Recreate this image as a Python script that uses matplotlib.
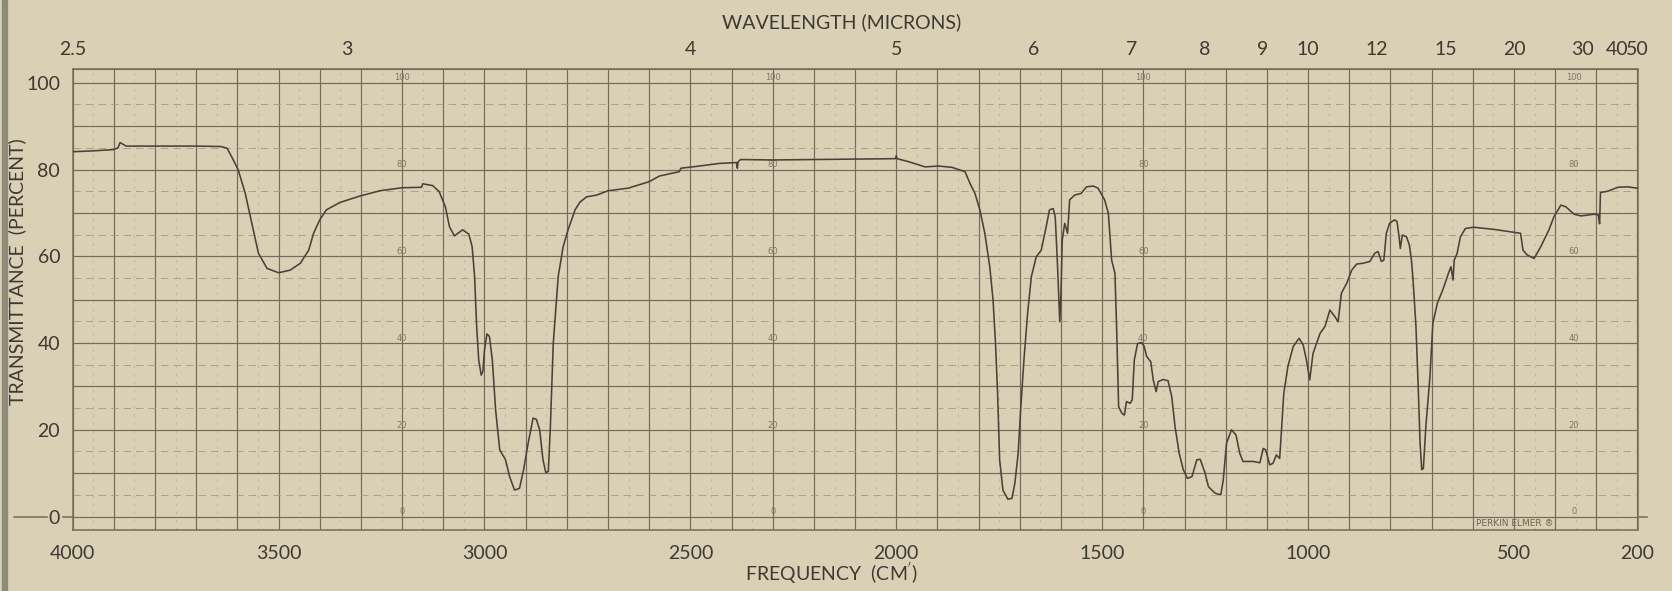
import numpy as np
import matplotlib
matplotlib.use("Agg")
import matplotlib.pyplot as plt
from matplotlib.patches import Rectangle
from matplotlib.ticker import MultipleLocator, FuncFormatter, NullLocator
import matplotlib.transforms as mtransforms

plt.rcParams["font.family"] = ["Lato", "DejaVu Sans"]

# spectrum: wavenumber (cm-1) and transmittance (%)
wavenumber = [
    4000, 3950, 3900, 3890, 3885, 3870, 3800, 3700, 3640, 3625, 3610, 3598,
    3581, 3565, 3549, 3528, 3500, 3472, 3447, 3427, 3415, 3400, 3384, 3351,
    3302, 3254, 3200, 3153, 3150, 3126, 3110, 3095, 3085, 3073, 3053, 3038,
    3030, 3024, 3019, 3014, 3008, 3004, 3000, 2994, 2988, 2981, 2973, 2963,
    2949, 2939, 2927, 2915, 2905, 2894, 2882, 2874, 2866, 2858, 2851, 2845,
    2840, 2833, 2821, 2809, 2797, 2780, 2768, 2752, 2728, 2700, 2651, 2600,
    2575, 2527, 2523, 2478, 2430, 2388, 2386, 2384, 2378, 2300, 2200, 2115,
    2002, 2000, 1998, 1970, 1930, 1898, 1865, 1833, 1821, 1809, 1797, 1785,
    1773, 1765, 1759, 1754, 1749, 1741, 1729, 1719, 1712, 1704, 1698, 1690,
    1681, 1672, 1660, 1648, 1636, 1628, 1619, 1614, 1609, 1605, 1603, 1600,
    1597, 1591, 1584, 1579, 1567, 1551, 1538, 1522, 1510, 1494, 1485, 1477,
    1469, 1465, 1460, 1452, 1446, 1441, 1432, 1427, 1422, 1414, 1404, 1398,
    1392, 1382, 1376, 1369, 1364, 1352, 1340, 1331, 1323, 1313, 1303, 1293,
    1282, 1270, 1262, 1250, 1242, 1226, 1212, 1206, 1198, 1186, 1175, 1166,
    1158, 1133, 1117, 1109, 1103, 1093, 1085, 1077, 1069, 1065, 1059, 1049,
    1036, 1022, 1012, 1004, 996, 988, 971, 959, 947, 935, 927, 919, 906, 894,
    882, 866, 850, 838, 830, 822, 816, 810, 802, 790, 784, 779, 776, 771, 761,
    754, 749, 745, 738, 732, 728, 724, 720, 714, 704, 697, 686, 673, 659, 653,
    648, 645, 638, 630, 618, 598, 549, 484, 478, 468, 451, 435, 415, 403, 386,
    374, 354, 337, 305, 295, 292, 290, 272, 248, 224, 200,
]
transmittance = [
    84.1, 84.3, 84.6, 85.0, 86.2, 85.4, 85.4, 85.4, 85.3, 84.9, 82.2, 79.9,
    74.5, 67.6, 60.7, 57.2, 56.2, 56.8, 58.4, 61.4, 65.3, 68.4, 70.7, 72.4,
    73.9, 75.1, 75.8, 75.9, 76.7, 76.3, 74.9, 71.4, 66.8, 64.7, 66.1, 65.1,
    62.2, 55.3, 43.8, 36.1, 32.6, 33.4, 38.4, 42.1, 41.5, 36.1, 24.6, 15.4,
    13.1, 9.2, 6.1, 6.5, 10.8, 16.9, 22.7, 22.4, 20.0, 13.1, 10.1, 10.4,
    20.7, 39.9, 55.3, 62.2, 66.1, 70.7, 72.5, 73.7, 74.1, 75.1, 75.7, 77.2,
    78.5, 79.5, 80.3, 80.8, 81.4, 81.6, 80.3, 81.8, 82.3, 82.2, 82.3, 82.4,
    82.5, 83.2, 82.5, 81.8, 80.6, 80.8, 80.5, 79.5, 76.8, 74.5, 70.7, 65.3,
    57.6, 49.9, 39.9, 28.4, 13.1, 6.1, 4.0, 4.2, 7.7, 14.6, 24.6, 36.1,
    46.9, 55.3, 59.9, 61.4, 66.8, 70.7, 71.0, 69.1, 59.1, 49.9, 44.9, 51.5,
    63.7, 67.6, 65.3, 73.0, 74.1, 74.5, 76.0, 76.2, 75.7, 73.0, 69.9, 59.1,
    56.1, 43.8, 25.3, 23.8, 23.4, 26.5, 26.1, 26.9, 36.1, 39.9, 40.1, 39.2,
    36.9, 35.7, 31.5, 28.8, 31.1, 31.6, 31.3, 27.6, 20.7, 14.6, 10.8, 8.8,
    9.2, 13.1, 13.2, 10.0, 6.9, 5.4, 5.0, 8.4, 16.9, 20.0, 18.8, 14.6,
    12.7, 12.7, 12.4, 15.7, 15.4, 11.9, 12.3, 14.2, 13.4, 19.2, 28.4, 34.6,
    39.2, 41.1, 39.6, 36.1, 31.5, 37.6, 42.2, 43.8, 47.6, 46.1, 44.9, 51.5, 53.8, 56.8,
    58.2, 58.4, 58.8, 60.7, 61.1, 58.8, 59.1, 65.3, 67.6, 68.4, 68.0, 64.5, 61.8, 64.9, 64.5,
    62.6, 59.1, 54.5, 43.8, 28.4, 16.9, 10.8, 11.1, 20.7, 32.3, 44.5, 49.2, 52.2, 56.1, 57.6,
    54.5, 59.1, 60.7, 64.5, 66.4, 66.7, 66.2, 65.3, 61.4, 60.3, 59.5, 62.2, 66.1, 69.1, 71.8,
    71.4, 69.7, 69.3, 69.7, 69.5, 67.5, 74.7, 75.0, 75.9, 76.0, 75.7,
]

freq_labels = [4000, 3500, 3000, 2500, 2000, 1500, 1000, 500, 200]
wavelength_ticks = [2.5, 3, 4, 5, 6, 7, 8, 9, 10, 12, 15, 20, 30, 40, 50]
wavelength_labels = ["2.5", "3", "4", "5", "6", "7", "8", "9", "10", "12",
                     "15", "20", "30", "40", "50"]
percent_labels = [0, 20, 40, 60, 80, 100]
inner_scale_at = [3200, 2300, 1400, 355]

PAPER = "#d9d0b5"
GRID = "#726c5c"
GRID_MINOR = "#a29b84"
INK = "#3d3a33"
TRACE = "#48433a"

W, H = 1672, 591
fig = plt.figure(figsize=(W / 100, H / 100), dpi=100, facecolor=PAPER)
ax = fig.add_axes([72.7 / W, 61 / H, 1564.8 / W, 460.7 / H], facecolor=PAPER)
fig.patches.append(Rectangle((1.5 / W, 0), 5 / W, 1, transform=fig.transFigure,
                             color="#8e8978", zorder=0))

ax.set_xlim(4000, 200)
ax.set_ylim(-3.1, 103.1)

ax.xaxis.set_major_locator(MultipleLocator(100))
ax.xaxis.set_minor_locator(MultipleLocator(50))
ax.yaxis.set_major_locator(MultipleLocator(10))
ax.yaxis.set_minor_locator(MultipleLocator(5))
ax.xaxis.set_major_formatter(FuncFormatter(
    lambda v, p: f"{int(round(v))}" if int(round(v)) in freq_labels else ""))
ax.yaxis.set_major_formatter(FuncFormatter(
    lambda v, p: f"{int(round(v))}" if int(round(v)) in percent_labels else ""))
ax.grid(which="major", color=GRID, lw=0.85)
ax.grid(which="minor", axis="y", color=GRID_MINOR, lw=0.6, ls=(0, (9, 6)))
ax.grid(which="minor", axis="x", color=GRID_MINOR, lw=0.45, ls=(0, (4, 9)), alpha=0.7)
ax.tick_params(which="both", length=0)
ax.tick_params(axis="x", pad=11, labelsize=14, labelcolor=INK)
ax.tick_params(axis="y", pad=9, labelsize=14, labelcolor=INK)
for s in ax.spines.values():
    s.set_color(GRID)
    s.set_linewidth(1.1)


def nu_to_um(x):
    x = np.asarray(x, dtype=float)
    with np.errstate(divide="ignore", invalid="ignore"):
        return 1e4 / x


top = ax.secondary_xaxis("top", functions=(nu_to_um, nu_to_um))
top.set_xticks(wavelength_ticks, labels=wavelength_labels)
top.xaxis.set_minor_locator(NullLocator())
top.tick_params(length=0, pad=8, labelsize=14, labelcolor=INK)
top.spines["top"].set_color(GRID)

# the 0 % line runs out past the frame on both sides
blend = mtransforms.blended_transform_factory(ax.transAxes, ax.transData)
ax.plot([-0.0375, -0.0165], [0, 0], color=GRID, lw=1.1, transform=blend, clip_on=False)
ax.plot([-0.0065, 0], [0, 0], color=GRID, lw=1.1, transform=blend, clip_on=False)
ax.plot([1, 1.006], [0, 0], color=GRID, lw=1.1, transform=blend, clip_on=False)

# small printed transmittance scales inside the chart
for nu in inner_scale_at:
    for p in percent_labels:
        ax.text(nu, p + 1.1, str(p), fontsize=6, color="#7d7766",
                ha="center", va="center", family="DejaVu Sans")

ax.text(497, -1.7, "PERKIN ELMER \u00ae", fontsize=6.5, color="#6a6555",
        ha="center", va="center", family="DejaVu Sans")

ax.plot(wavenumber, transmittance, color=TRACE, lw=1.15, zorder=5)

fig.text(842 / W, 1 - 22 / H, "WAVELENGTH (MICRONS)", fontsize=14,
         color=INK, ha="center", va="center")
fig.text(831 / W, 1 - 573 / H, "FREQUENCY  (CM$^{'}$)", fontsize=14,
         color=INK, ha="center", va="center")
fig.text(17 / W, 1 - 272 / H, "TRANSMITTANCE  (PERCENT)", fontsize=14,
         color=INK, ha="center", va="center", rotation=90)

fig.savefig("out.png", dpi=100, facecolor=PAPER)
